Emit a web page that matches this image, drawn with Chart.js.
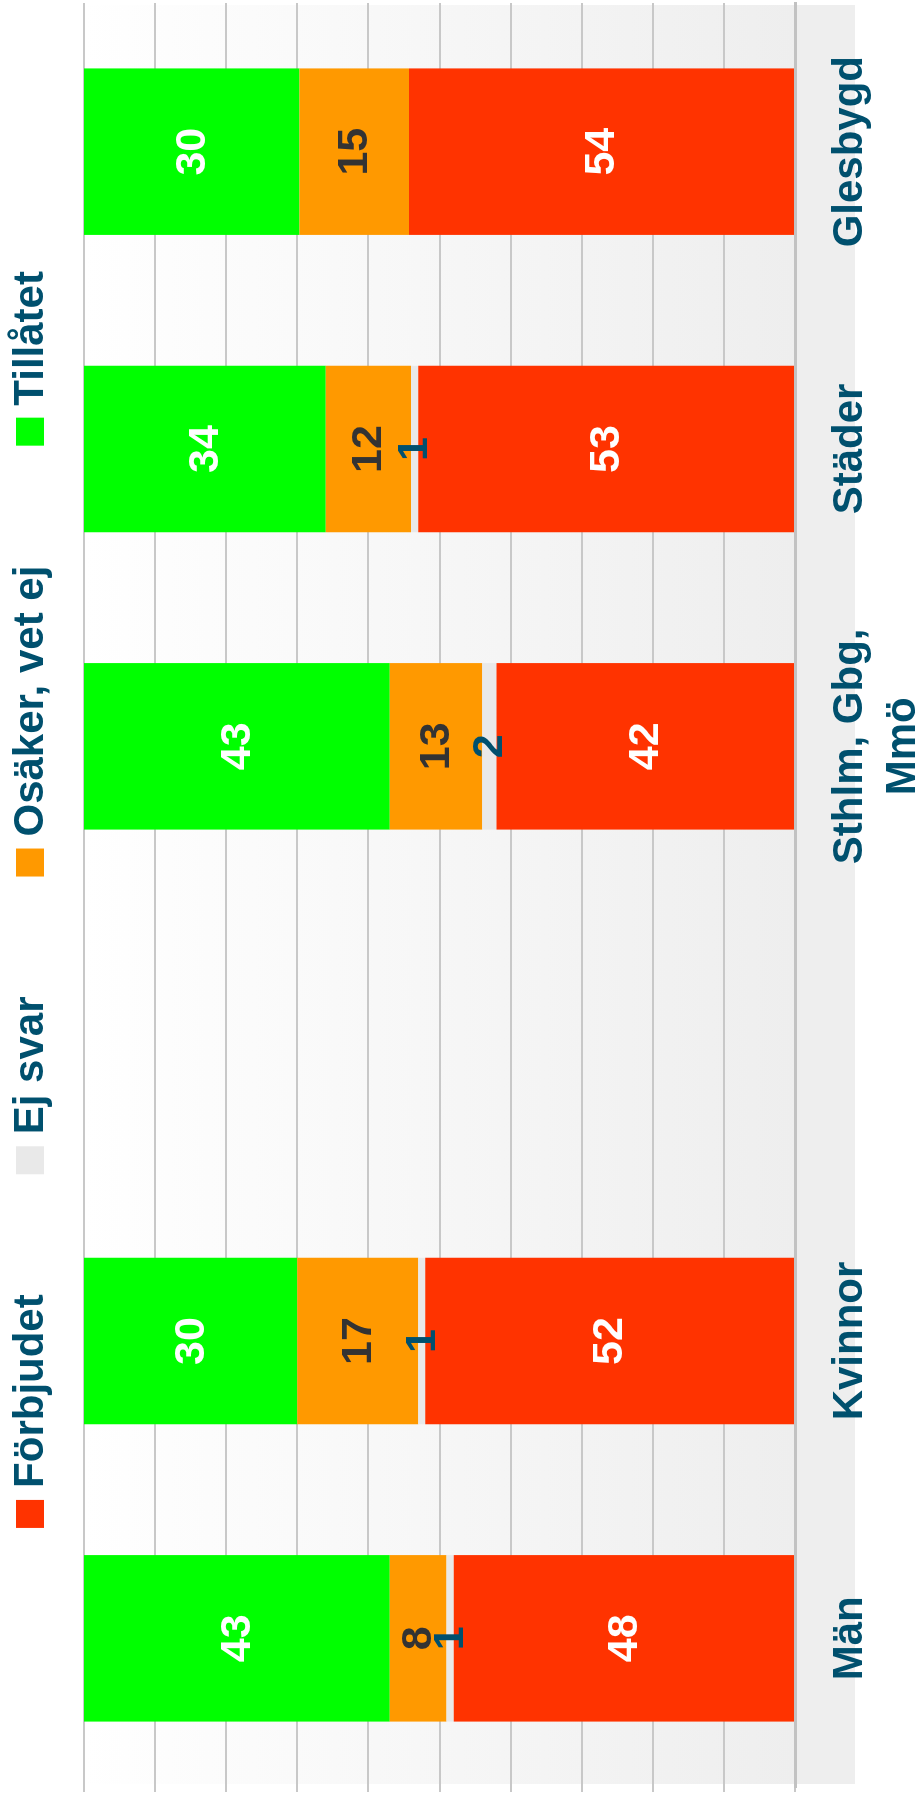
<!DOCTYPE html>
<html>
<head>
<meta charset="utf-8">
<script src="https://cdn.jsdelivr.net/npm/chart.js@4.4.1/dist/chart.umd.min.js"></script>
<style>
  html, body { margin: 0; padding: 0; background: #fff; }
  body { width: 920px; height: 1799px; overflow: hidden; position: relative; }
  /* the chart is drawn upright and then turned a quarter left */
  #wrap { position: absolute; left: 0; top: 0; width: 1799px; height: 920px;
          transform-origin: 0 0; transform: translate(0, 1799px) rotate(-90deg); }
</style>
</head>
<body>
<div id="wrap"><canvas id="chart" width="1799" height="920"></canvas></div>
<script>
const categories = ['Män', 'Kvinnor', '', ['Sthlm, Gbg,', 'Mmö'], 'Städer', 'Glesbygd'];
const forbjudet = [48, 52, null, 42, 53, 54.3];
const ejSvar    = [1, 1, null, 2, 1, 0];
const osaker    = [8, 17, null, 13, 12, 15.4];
const tillatet  = [43, 30, null, 43, 34, 30.3];

const teal = '#00506e';
const fontFamily = '"Liberation Sans", Arial, sans-serif';

// gradient panel behind the plot and the category labels
const panel = {
  id: 'panel',
  beforeDraw(chart) {
    const {ctx, chartArea: a} = chart;
    const bottom = a.bottom + 60;
    const g = ctx.createLinearGradient(0, a.top, 0, bottom);
    g.addColorStop(0, '#ffffff');
    g.addColorStop((a.bottom - a.top) / (bottom - a.top), '#eeeeee');
    g.addColorStop(1, '#eeeeee');
    ctx.save();
    ctx.fillStyle = g;
    ctx.fillRect(a.left + 3, a.top, a.right - a.left - 5, bottom - a.top);
    ctx.restore();
  }
};

// legend drawn by hand so the spacing can follow the original
const legend = {
  id: 'legendRow',
  afterDraw(chart) {
    const ctx = chart.ctx;
    const sets = chart.data.datasets;
    const box = 28, gapText = 12, gapItem = 120;
    ctx.save();
    ctx.font = 'bold 42px ' + fontFamily;
    const widths = sets.map(d => ctx.measureText(d.label).width);
    const total = widths.reduce((s, w) => s + box + gapText + w, 0) + gapItem * (sets.length - 1);
    let x = (chart.width - total) / 2;
    sets.forEach((d, i) => {
      ctx.fillStyle = d.backgroundColor;
      ctx.fillRect(x, 16, box, box);
      ctx.fillStyle = teal;
      ctx.textBaseline = 'alphabetic';
      ctx.textAlign = 'left';
      ctx.fillText(d.label, x + box + gapText, 43);
      x += box + gapText + widths[i] + gapItem;
    });
    ctx.restore();
  }
};

// numbers inside the bar segments
const valueLabels = {
  id: 'valueLabels',
  afterDatasetsDraw(chart) {
    const ctx = chart.ctx;
    ctx.save();
    ctx.font = 'bold 43px ' + fontFamily;
    ctx.textAlign = 'center';
    ctx.textBaseline = 'middle';
    chart.data.datasets.forEach((d, i) => {
      const meta = chart.getDatasetMeta(i);
      meta.data.forEach((bar, j) => {
        const v = d.data[j];
        if (!v) return;
        ctx.fillStyle = d.labelColor;
        ctx.fillText(Math.round(v), bar.x, (bar.y + bar.base) / 2 + 1);
      });
    });
    ctx.restore();
  }
};

new Chart(document.getElementById('chart'), {
  type: 'bar',
  data: {
    labels: categories,
    datasets: [
      { label: 'Förbjudet', data: forbjudet, backgroundColor: '#ff3300', labelColor: '#ffffff' },
      { label: 'Ej svar', data: ejSvar, backgroundColor: '#e9e9e9', labelColor: teal },
      { label: 'Osäker, vet ej', data: osaker, backgroundColor: '#ff9900', labelColor: '#333333' },
      { label: 'Tillåtet', data: tillatet, backgroundColor: '#00ff00', labelColor: '#ffffff' },
    ],
  },
  options: {
    responsive: false,
    animation: false,
    devicePixelRatio: 1,
    layout: { padding: { top: 84, left: 7, right: 3, bottom: 0 } },
    datasets: {
      bar: { categoryPercentage: 1, barPercentage: 0.56, borderWidth: 0 }
    },
    plugins: {
      legend: { display: false },
      tooltip: { enabled: false },
    },
    scales: {
      x: {
        stacked: true,
        grid: { display: false },
        border: { display: true, color: '#c2c2c2', width: 3 },
        ticks: {
          color: teal,
          padding: 21,
          maxRotation: 0,
          autoSkip: false,
          font: { family: fontFamily, size: 42, weight: 'bold', lineHeight: 1.26 },
        },
        afterFit(axis) { axis.height = 125; },
      },
      y: {
        stacked: true,
        min: 0,
        max: 100,
        grid: { color: '#c8c8c8', lineWidth: 2, tickLength: 5 },
        border: { display: false },
        ticks: { display: false, stepSize: 10 },
      },
    },
  },
  plugins: [panel, legend, valueLabels],
});
</script>
</body>
</html>
